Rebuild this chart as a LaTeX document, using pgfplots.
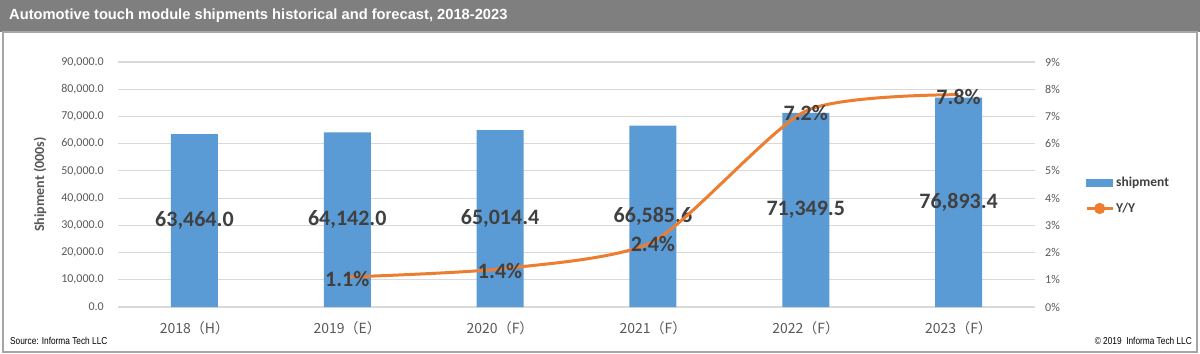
\documentclass[border=0pt]{standalone}
\usepackage{fontspec}
\setmainfont{Carlito}
\newfontfamily\arialf{Liberation Sans}
\newfontfamily\cjk{Noto Sans CJK SC}
\usepackage{graphicx}
\usepackage{pgfplots}
\pgfplotsset{compat=1.18}
\usepackage{pgfplotstable}
\definecolor{barblue}{HTML}{5B9BD5}
\definecolor{lineorange}{HTML}{ED7D31}
\definecolor{tickgray}{HTML}{595959}
\definecolor{lblgray}{HTML}{404040}
\definecolor{gridgray}{HTML}{D9D9D9}
\definecolor{titlegray}{HTML}{7F7F7F}
\definecolor{framegray}{HTML}{A6A6A6}

\pgfplotstableread{
x v lab
0 63464.0 63,464.0
1 64142.0 64,142.0
2 65014.4 65,014.4
3 66585.6 66,585.6
4 71349.5 71,349.5
5 76893.4 76,893.4
}\ship

\pgfplotstableread{
x p
1 1.1
2 1.4
3 2.4
4 7.2
5 7.8
}\yoy

\begin{document}
\begin{tikzpicture}
\useasboundingbox (0,0) rectangle (1200bp,354bp);
\fill[white] (0,0) rectangle (1200bp,354bp);
\fill[titlegray] (0,322bp) rectangle (1200bp,354bp);
\node[anchor=west, text=white, font=\arialf\bfseries\fontsize{14.7bp}{16bp}\selectfont, inner sep=0pt] at (9bp,338bp) {Automotive touch module shipments historical and forecast, 2018-2023};
\draw[framegray, line width=2bp] (3bp,2bp) rectangle (1197bp,322bp);

\begin{axis}[
  at={(118bp,47bp)}, anchor=south west,
  scale only axis, width=917bp, height=245bp,
  xmin=-0.5, xmax=5.5, ymin=0, ymax=90000,
  axis line style={draw=none},
  major tick length=0pt,
  scaled y ticks=false,
  xtick={0,1,2,3,4,5},
  xticklabels={2018（H）,2019（E）,2020（F）,2021（F）,2022（F）,2023（F）},
  xticklabel style={font=\cjk\fontsize{14bp}{16bp}\selectfont, text=tickgray, yshift=-11bp},
  ytick={0,10000,20000,30000,40000,50000,60000,70000,80000,90000},
  yticklabels={{0.0},{10,000.0},{20,000.0},{30,000.0},{40,000.0},{50,000.0},{60,000.0},{70,000.0},{80,000.0},{90,000.0}},
  yticklabel style={font=\fontsize{12bp}{14bp}\selectfont, text=tickgray, anchor=east, inner sep=0pt, xshift=-14bp},
  ymajorgrids, grid style={gridgray, line width=1.2bp},
  ylabel={Shipment (000s)},
  ylabel style={font=\bfseries\fontsize{14bp}{16bp}\selectfont, text=tickgray},
  every axis y label/.append style={at={(-78bp,0.5)}, anchor=center, rotate=0},
  clip=false,
]
\addplot[ybar, bar width=47bp, fill=barblue, draw=none] table[x=x, y=v] {\ship};
\addplot[draw=none, mark=none, nodes near coords, point meta=explicit symbolic,
  every node near coord/.append style={anchor=center, font=\bfseries\fontsize{22bp}{24bp}\selectfont, text=lblgray}]
  table[x=x, y expr=\thisrow{v}/2, meta=lab] {\ship};
\end{axis}

\begin{axis}[
  at={(118bp,47bp)}, anchor=south west,
  scale only axis, width=917bp, height=245bp,
  xmin=-0.5, xmax=5.5, ymin=0, ymax=9,
  axis x line=none, axis y line*=right,
  axis line style={draw=none},
  major tick length=0pt,
  xtick=\empty,
  ytick={0,1,2,3,4,5,6,7,8,9},
  yticklabels={0\%,1\%,2\%,3\%,4\%,5\%,6\%,7\%,8\%,9\%},
  yticklabel style={font=\fontsize{12bp}{14bp}\selectfont, text=tickgray, anchor=west, inner sep=0pt, xshift=10bp},
  clip=false,
  legend style={at={(1.0545,0.455)}, anchor=west, draw=none, fill=none,
    font=\bfseries\fontsize{13.5bp}{15bp}\selectfont, text=lblgray,
    row sep=11bp, inner sep=0pt},
  legend cell align=left,
]
\addlegendimage{legend image code/.code={\fill[barblue] (0bp,-3.5bp) rectangle (26bp,3.5bp);}}
\addlegendentry{shipment}
\addplot[lineorange, line width=3bp, smooth, tension=0.4, mark=none,
  legend image code/.code={\draw[lineorange, line width=3bp] (0bp,0bp)--(26bp,0bp); \fill[lineorange] (13bp,0bp) circle (4bp);}]
  table[x=x, y=p] {\yoy};
\addlegendentry{Y/Y}
\addplot[draw=none, mark=none, forget plot, nodes near coords={\pgfplotspointmeta\%}, point meta=explicit symbolic,
  every node near coord/.append style={anchor=center, yshift=-2bp, font=\bfseries\fontsize{22bp}{24bp}\selectfont, text=lblgray}]
  table[x=x, y=p, meta=p] {\yoy};
\end{axis}

\node[anchor=west, inner sep=0pt] at (10bp,13bp) {\scalebox{0.83}[1]{\arialf\fontsize{10bp}{12bp}\selectfont Source: Informa Tech LLC}};
\node[anchor=east, inner sep=0pt] at (1192bp,13bp) {\scalebox{0.83}[1]{\arialf\fontsize{10bp}{12bp}\selectfont \textcopyright{} 2019\ \ Informa Tech LLC}};
\end{tikzpicture}
\end{document}
